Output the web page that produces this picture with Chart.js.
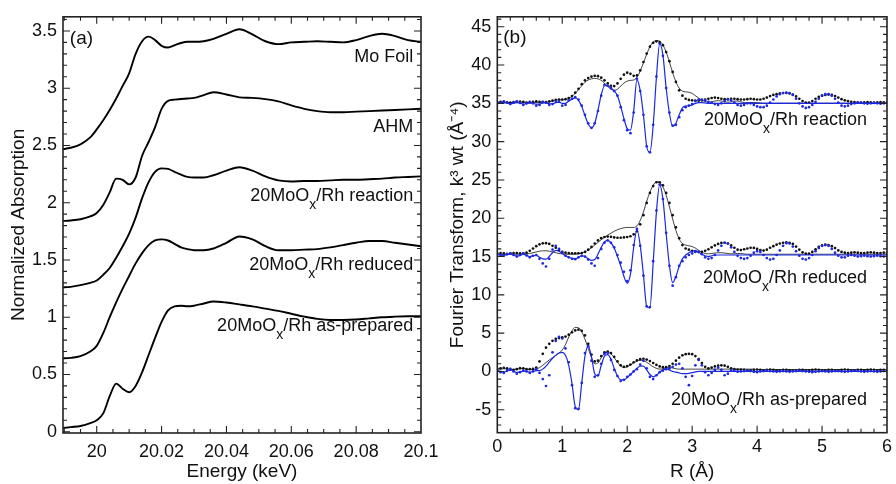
<!DOCTYPE html>
<html>
<head>
<meta charset="utf-8">
<script src="https://cdn.jsdelivr.net/npm/chart.js@4.4.0/dist/chart.umd.min.js"></script>
<style>
  html, body { margin: 0; padding: 0; background: #fff; }
  #wrap { position: relative; width: 896px; height: 484px; overflow: hidden; }
  #left { position: absolute; left: 0; top: 0; width: 448px; height: 484px; }
  #right { position: absolute; left: 446px; top: 0; width: 450px; height: 484px; }
</style>
</head>
<body>
<div id="wrap">
  <canvas id="left" width="448" height="484"></canvas>
  <canvas id="right" width="450" height="484"></canvas>
</div>
<script>
'use strict';

// ---- (a) XANES, normalized absorption vs energy (keV) ----
var energy = [19.989, 19.992, 19.995, 19.998,
  20.000, 20.002, 20.004, 20.006, 20.008, 20.010, 20.012, 20.014, 20.016, 20.018, 20.020, 20.022, 20.024, 20.026, 20.028, 20.030,
  20.033, 20.036,
  20.040, 20.044, 20.048, 20.052, 20.056, 20.060, 20.064, 20.068, 20.072, 20.076, 20.080, 20.084, 20.088, 20.092, 20.096, 20.100];

var moFoil = [2.465, 2.48, 2.51, 2.57,
  2.64, 2.72, 2.81, 2.91, 3.02, 3.13, 3.3, 3.41, 3.45, 3.42, 3.37, 3.355, 3.375, 3.395, 3.405, 3.405,
  3.41, 3.43,
  3.475, 3.515, 3.47, 3.41, 3.385, 3.4, 3.405, 3.41, 3.405, 3.4, 3.42, 3.455, 3.475, 3.455, 3.42, 3.405];

var ahm = [1.84, 1.845, 1.855, 1.88,
  1.91, 1.98, 2.09, 2.21, 2.2, 2.16, 2.22, 2.41, 2.53, 2.66, 2.82, 2.89, 2.9, 2.905, 2.91, 2.915,
  2.94, 2.965,
  2.945, 2.92, 2.915, 2.905, 2.885, 2.85, 2.82, 2.8, 2.79, 2.79, 2.795, 2.8, 2.805, 2.81, 2.815, 2.82];

var mooxReaction = [1.26, 1.265, 1.28, 1.3,
  1.32, 1.37, 1.43, 1.52, 1.62, 1.73, 1.87, 2.04, 2.18, 2.27, 2.3, 2.295, 2.27, 2.245, 2.225, 2.22,
  2.22, 2.24,
  2.28, 2.31, 2.28, 2.23, 2.195, 2.185, 2.19, 2.19, 2.195, 2.2, 2.2, 2.205, 2.21, 2.22, 2.225, 2.23];

var mooxReduced = [0.64, 0.645, 0.66, 0.7,
  0.75, 0.86, 1.0, 1.13, 1.25, 1.36, 1.47, 1.56, 1.63, 1.67, 1.68, 1.67, 1.64, 1.61, 1.595, 1.585,
  1.585, 1.6,
  1.65, 1.705, 1.68, 1.62, 1.585, 1.585, 1.59, 1.595, 1.61, 1.63, 1.65, 1.665, 1.665, 1.65, 1.635, 1.62];

var mooxAsPrepared = [0.03, 0.04, 0.05, 0.075,
  0.1, 0.16, 0.31, 0.42, 0.375, 0.345, 0.4, 0.52, 0.67, 0.82, 0.96, 1.06, 1.095, 1.1, 1.095, 1.1,
  1.12, 1.137,
  1.128, 1.112, 1.095, 1.075, 1.055, 1.03, 1.005, 0.985, 0.976, 0.976, 0.98, 0.99, 1.0, 1.005, 1.008, 1.009];

var energyTicks = [20, 20.02, 20.04, 20.06, 20.08, 20.1];
var energyTickLabels = ['20', '20.02', '20.04', '20.06', '20.08', '20.1'];
var absTicks = [0, 0.5, 1, 1.5, 2, 2.5, 3, 3.5];
var absTickLabels = ['0', '0.5', '1', '1.5', '2', '2.5', '3', '3.5'];

// ---- (b) Fourier transforms, k3 weighted, vs R (A) ----
var rValues = [
  0, 0.05, 0.1, 0.15, 0.2, 0.25, 0.3, 0.35, 0.4, 0.45, 0.5, 0.55, 0.6, 0.65, 0.7, 0.75, 0.8, 0.85, 0.9, 0.95,
  1, 1.05, 1.1, 1.15, 1.2, 1.25, 1.3, 1.35, 1.4, 1.45, 1.5, 1.55, 1.6, 1.65, 1.7, 1.75, 1.8, 1.85, 1.9, 1.95,
  2, 2.05, 2.1, 2.15, 2.2, 2.25, 2.3, 2.35, 2.4, 2.45, 2.5, 2.55, 2.6, 2.65, 2.7, 2.75, 2.8, 2.85, 2.9, 2.95,
  3, 3.05, 3.1, 3.15, 3.2, 3.25, 3.3, 3.35, 3.4, 3.45, 3.5, 3.55, 3.6, 3.65, 3.7, 3.75, 3.8, 3.85, 3.9, 3.95,
  4, 4.05, 4.1, 4.15, 4.2, 4.25, 4.3, 4.35, 4.4, 4.45, 4.5, 4.55, 4.6, 4.65, 4.7, 4.75, 4.8, 4.85, 4.9, 4.95,
  5, 5.05, 5.1, 5.15, 5.2, 5.25, 5.3, 5.35, 5.4, 5.45, 5.5, 5.55, 5.6, 5.65, 5.7, 5.75, 5.8, 5.85, 5.9, 5.95,
  6];

// reaction (plotted +35)
var reactionMag = [
  0.15, 0.2, 0.18, 0.12, 0.1, 0.15, 0.2, 0.22, 0.18, 0.1, 0.12, 0.2, 0.25, 0.2, 0.15, 0.15, 0.25, 0.35, 0.45, 0.5,
  0.5, 0.55, 0.7, 0.95, 1.4, 1.9, 2.5, 3.0, 3.3, 3.5, 3.6, 3.55, 3.35, 3.0, 2.6, 2.3, 2.25, 2.6, 3.2, 3.75,
  4.0, 3.85, 3.6, 3.65, 4.3, 5.4, 6.5, 7.4, 7.9, 8.1, 8.0, 7.6, 6.7, 5.5, 4.1, 2.8, 1.7, 1.0, 0.6, 0.45,
  0.4, 0.35, 0.35, 0.4, 0.5, 0.6, 0.7, 0.75, 0.7, 0.6, 0.55, 0.55, 0.6, 0.6, 0.55, 0.5, 0.5, 0.55, 0.6, 0.55,
  0.5, 0.5, 0.6, 0.75, 0.95, 1.1, 1.2, 1.3, 1.35, 1.35, 1.3, 1.15, 0.9, 0.6, 0.3, 0.1, 0.1, 0.3, 0.6, 0.85,
  1.0, 1.1, 1.15, 1.1, 0.95, 0.75, 0.55, 0.4, 0.3, 0.2, 0.15, 0.12, 0.1, 0.12, 0.15, 0.12, 0.1, 0.12, 0.15, 0.12,
  0.1];
var reactionMagFit = [
  0.1, 0.12, 0.15, 0.12, 0.1, 0.1, 0.12, 0.15, 0.15, 0.12, 0.1, 0.1, 0.12, 0.15, 0.15, 0.15, 0.2, 0.3, 0.4, 0.45,
  0.45, 0.5, 0.65, 0.9, 1.3, 1.8, 2.3, 2.75, 3.05, 3.2, 3.25, 3.2, 3.0, 2.65, 2.2, 1.85, 1.7, 1.85, 2.25, 2.65,
  2.9, 3.0, 3.05, 3.4, 4.2, 5.3, 6.4, 7.4, 8.0, 8.2, 8.1, 7.6, 6.7, 5.4, 4.0, 2.8, 2.0, 1.6, 1.5, 1.45,
  1.3, 1.0, 0.7, 0.4, 0.25, 0.15, 0.2, 0.3, 0.35, 0.3, 0.2, 0.15, 0.2, 0.3, 0.3, 0.2, 0.1, 0.08, 0.1, 0.12,
  0.1, 0.05, 0.02, 0.02, 0.02, 0.02, 0.02, 0.02, 0.02, 0.02, 0.02, 0.02, 0.02, 0.02, 0.02, 0.02, 0.02, 0.02, 0.02, 0.02,
  0.02, 0.02, 0.02, 0.02, 0.02, 0.02, 0.02, 0.02, 0.02, 0.02, 0.02, 0.02, 0.02, 0.02, 0.02, 0.02, 0.02, 0.02, 0.02, 0.02,
  0.02];
var reactionRe = [
  0, 0.1, 0.25, 0.1, -0.1, 0.1, 0.25, 0.05, -0.2, 0, 0.2, 0, -0.3, -0.2, 0.2, 0.1, -0.2, -0.1, 0.3, 0.2,
  -0.3, -0.2, 0.4, 0.6, 0.8, 0.5, -0.3, -1.5, -2.6, -3.2, -2.6, -1.0, 1.0, 2.4, 2.3, 2.0, 1.6, 1.0, -0.5, -2.2,
  -3.5, -3.9, -1.2, 3.2, 1.6, -1.5, -5.6, -6.4, -2.8, 3.5, 7.8, 6.2, 2.0, -1.2, -2.9, -2.8, -1.8, -0.9, -0.5, -0.3,
  -0.1, 0.3, 0.5, 0.5, 0.4, 0.2, 0.1, -0.1, -0.2, 0, 0.3, 0.5, 0.4, 0.1, -0.2, -0.3, -0.2, 0, 0, -0.2,
  -0.4, -0.5, -0.5, -0.3, 0.1, 0.5, 0.9, 1.2, 1.35, 1.4, 1.35, 1.1, 0.6, 0, -0.4, -0.6, -0.5, -0.2, 0.2, 0.6,
  1.0, 1.2, 1.2, 1.0, 0.6, 0.1, -0.3, -0.4, -0.3, -0.1, 0, 0.1, 0.1, 0, -0.05, 0, 0.05, 0, -0.05, 0,
  0.05];
var reactionReFit = [
  0, 0.05, 0.1, 0.05, -0.05, 0, 0.1, 0.05, -0.1, -0.05, 0.05, 0, -0.1, -0.1, 0.05, 0.05, -0.05, -0.05, 0.1, 0.15,
  0, 0, 0.3, 0.55, 0.7, 0.4, -0.4, -1.6, -2.7, -3.2, -2.6, -0.9, 1.1, 2.3, 2.3, 2.0, 1.6, 1.0, -0.4, -2.0,
  -3.3, -3.5, -1.0, 3.1, 1.7, -1.5, -5.6, -6.4, -2.9, 3.4, 7.8, 6.3, 2.0, -1.3, -3.0, -2.6, -1.5, -0.6, -0.35, -0.3,
  -0.2, 0, 0.1, 0.1, 0.05, 0, 0, 0, 0, 0, 0, 0, 0, 0, 0, 0, 0, 0, 0, 0,
  0, 0, 0, 0, 0, 0, 0, 0, 0, 0, 0, 0, 0, 0, 0, 0, 0, 0, 0, 0,
  0, 0, 0, 0, 0, 0, 0, 0, 0, 0, 0, 0, 0, 0, 0, 0, 0, 0, 0, 0,
  0];

// reduced (plotted +15)
var reducedMag = [
  0.4, 0.45, 0.4, 0.35, 0.4, 0.45, 0.45, 0.4, 0.4, 0.5, 0.75, 1.05, 1.35, 1.6, 1.72, 1.75, 1.65, 1.4, 1.15, 0.85,
  0.6, 0.5, 0.45, 0.43, 0.43, 0.43, 0.45, 0.6, 0.9, 1.25, 1.7, 2.1, 2.4, 2.55, 2.6, 2.58, 2.5, 2.45, 2.45, 2.5,
  2.55, 2.65, 2.9, 3.3, 4.2, 5.4, 7.0, 8.3, 9.2, 9.7, 9.7, 9.3, 8.3, 7.0, 5.4, 3.8, 2.4, 1.5, 1.05, 0.9,
  0.75, 0.62, 0.6, 0.62, 0.75, 0.95, 1.2, 1.45, 1.65, 1.78, 1.8, 1.7, 1.45, 1.15, 0.9, 0.85, 0.95, 1.05, 1.15, 1.12,
  1.0, 0.85, 0.78, 0.9, 1.15, 1.35, 1.55, 1.7, 1.8, 1.85, 1.8, 1.65, 1.3, 0.9, 0.55, 0.38, 0.38, 0.6, 0.95, 1.25,
  1.45, 1.55, 1.5, 1.35, 1.1, 0.8, 0.6, 0.5, 0.45, 0.5, 0.55, 0.5, 0.45, 0.45, 0.5, 0.55, 0.5, 0.45, 0.45, 0.5,
  0.5];
var reducedMagFit = [
  0.3, 0.3, 0.28, 0.28, 0.3, 0.3, 0.3, 0.3, 0.32, 0.35, 0.4, 0.5, 0.6, 0.7, 0.75, 0.75, 0.7, 0.6, 0.5, 0.4,
  0.35, 0.3, 0.3, 0.3, 0.3, 0.35, 0.45, 0.6, 0.85, 1.15, 1.5, 1.85, 2.2, 2.5, 2.8, 3.05, 3.3, 3.5, 3.65, 3.75,
  3.8, 3.8, 3.8, 4.0, 4.7, 5.8, 7.2, 8.4, 9.3, 9.75, 9.65, 9.1, 8.0, 6.5, 4.9, 3.4, 2.3, 1.7, 1.5, 1.4,
  1.3, 1.1, 0.8, 0.55, 0.4, 0.35, 0.4, 0.45, 0.5, 0.5, 0.45, 0.4, 0.35, 0.35, 0.4, 0.4, 0.35, 0.3, 0.3, 0.3,
  0.3, 0.3, 0.3, 0.3, 0.3, 0.3, 0.3, 0.3, 0.3, 0.3, 0.3, 0.3, 0.3, 0.3, 0.3, 0.3, 0.3, 0.3, 0.3, 0.3,
  0.3, 0.3, 0.3, 0.3, 0.3, 0.3, 0.3, 0.3, 0.3, 0.3, 0.3, 0.3, 0.3, 0.3, 0.3, 0.3, 0.3, 0.3, 0.3, 0.3,
  0.3];
var reducedRe = [
  0.3, 0.2, 0.1, 0.3, 0.43, 0.2, 0, 0.2, 0.4, 0.15, -0.1, 0.1, 0.2, -0.3, -0.9, -1.3, -0.3, 0.9, 1.4, 1.0,
  0.5, 0.1, -0.1, -0.3, -0.35, -0.1, 0.1, 0, -0.4, -0.9, -1.2, -0.2, 1.0, 1.8, 2.1, 1.8, 1.2, 0.2, -0.8, -2.0,
  -3.2, -1.8, 1.5, 3.6, 1.4, -2.5, -6.5, -6.6, -0.6, 6.0, 9.4, 7.5, 3.1, -1.2, -3.8, -2.7, -1.2, -0.6, -0.1, 0.2,
  0.4, 0.7, 0.6, 0.3, -0.1, -0.3, -0.2, 0.2, 0.8, 1.4, 1.8, 1.7, 1.2, 0.6, 0.1, -0.2, -0.3, -0.2, 0.1, 0.5,
  0.7, 0.6, 0.2, -0.2, -0.4, -0.3, 0.2, 0.8, 1.4, 1.75, 1.7, 1.3, 0.7, 0.1, -0.3, -0.4, -0.2, 0.2, 0.7, 1.1,
  1.4, 1.5, 1.4, 1.0, 0.5, 0.1, -0.1, -0.1, 0.1, 0.2, 0.1, 0, 0.05, 0.1, 0.05, 0, 0.05, 0.1, 0.05, 0,
  0.05];
var reducedReFit = [
  0.25, 0.2, 0.15, 0.25, 0.3, 0.2, 0.05, 0.15, 0.3, 0.15, 0, 0.1, 0.15, -0.1, -0.3, -0.35, 0, 0.5, 0.8, 0.7,
  0.4, 0.1, -0.1, -0.25, -0.3, -0.1, 0.1, 0, -0.3, -0.5, -0.4, 0.3, 1.2, 1.9, 2.1, 1.8, 1.1, 0, -1.2, -2.6,
  -3.5, -2.3, 1.2, 3.5, 1.5, -2.4, -6.5, -6.7, -0.8, 5.8, 9.4, 7.5, 3.0, -1.2, -3.4, -2.6, -1.3, -0.3, 0.2, 0.5,
  0.7, 0.75, 0.55, 0.3, 0.1, 0, 0.1, 0.2, 0.2, 0.2, 0.2, 0.2, 0.2, 0.2, 0.2, 0.2, 0.2, 0.2, 0.2, 0.2,
  0.2, 0.2, 0.2, 0.2, 0.2, 0.2, 0.2, 0.2, 0.2, 0.2, 0.2, 0.2, 0.2, 0.2, 0.2, 0.2, 0.2, 0.2, 0.2, 0.2,
  0.2, 0.2, 0.2, 0.2, 0.2, 0.2, 0.2, 0.2, 0.2, 0.2, 0.2, 0.2, 0.2, 0.2, 0.2, 0.2, 0.2, 0.2, 0.2, 0.2,
  0.2];

// as-prepared (plotted +0)
var asPreparedMag = [
  0.35, 0.4, 0.48, 0.4, 0.25, 0.2, 0.3, 0.43, 0.4, 0.3, 0.3, 0.35, 0.5, 1.3, 2.3, 3.1, 3.6, 4.0, 4.25, 4.35,
  4.45, 4.55, 4.8, 5.1, 5.35, 5.45, 5.3, 4.7, 3.6, 2.2, 1.3, 1.4, 2.0, 2.5, 2.6, 2.4, 1.9, 1.3, 0.8, 0.6,
  0.7, 0.9, 1.2, 1.45, 1.6, 1.65, 1.55, 1.35, 1.1, 0.85, 0.65, 0.55, 0.55, 0.7, 1.0, 1.4, 1.8, 2.1, 2.25, 2.3,
  2.25, 2.0, 1.6, 1.1, 0.6, 0.4, 0.5, 0.65, 0.75, 0.8, 0.75, 0.6, 0.4, 0.3, 0.25, 0.25, 0.2, 0.15, 0.15, 0.2,
  0.25, 0.2, 0.15, 0.2, 0.25, 0.2, 0.15, 0.15, 0.2, 0.2, 0.15, 0.1, 0.15, 0.2, 0.2, 0.15, 0.15, 0.2, 0.25, 0.2,
  0.15, 0.15, 0.2, 0.2, 0.15, 0.15, 0.2, 0.25, 0.2, 0.15, 0.15, 0.2, 0.2, 0.15, 0.2, 0.25, 0.2, 0.15, 0.2, 0.2,
  0.15];
var asPreparedMagFit = [
  0.3, 0.3, 0.35, 0.3, 0.25, 0.25, 0.3, 0.35, 0.35, 0.3, 0.25, 0.25, 0.3, 0.5, 0.8, 1.15, 1.5, 1.8, 2.1, 2.4,
  2.8, 3.5, 4.5, 5.3, 5.75, 5.7, 5.2, 4.2, 3.0, 1.8, 1.0, 1.1, 1.8, 2.35, 2.5, 2.3, 1.8, 1.2, 0.7, 0.5,
  0.6, 0.85, 1.1, 1.35, 1.45, 1.4, 1.2, 0.9, 0.6, 0.4, 0.3, 0.35, 0.45, 0.5, 0.45, 0.35, 0.3, 0.3, 0.3, 0.3,
  0.3, 0.3, 0.3, 0.3, 0.3, 0.3, 0.3, 0.3, 0.3, 0.3, 0.3, 0.3, 0.3, 0.3, 0.3, 0.3, 0.3, 0.3, 0.3, 0.3,
  0.25, 0.25, 0.25, 0.25, 0.25, 0.25, 0.25, 0.25, 0.25, 0.25, 0.25, 0.25, 0.25, 0.25, 0.25, 0.25, 0.25, 0.25, 0.25, 0.25,
  0.25, 0.25, 0.25, 0.25, 0.25, 0.25, 0.25, 0.25, 0.25, 0.25, 0.25, 0.25, 0.25, 0.25, 0.25, 0.25, 0.25, 0.25, 0.25, 0.25,
  0.25];
var asPreparedRe = [
  0.1, -0.1, -0.2, 0.1, 0.35, 0, -0.3, -0.1, 0.1, 0, -0.2, 0, 0.3, -0.2, -1.0, -1.9, -0.5, 2.5, 4.0, 4.5,
  4.3, 3.0, 1.2, -1.8, -4.8, -4.9, -1.5, 2.4, 3.3, 1.4, -0.7, -0.5, 1.0, 2.3, 2.4, 1.5, 0.2, -0.6, -1.25, -1.1,
  -0.7, -0.4, 0, 0.3, 0.9, 1.4, 0.4, -0.7, -1.0, -0.5, -0.1, 0.1, 0.3, 0.4, 0.6, 0.9, 1.0, 0.4, -0.7, -1.8,
  -0.6, 0.8, 1.5, 0.8, -0.1, -0.5, -0.2, 0.2, 0.5, 0.2, -0.5, -0.3, 0.1, 0.1, -0.05, 0, 0.05, 0.1, 0.05, -0.05,
  -0.1, 0, 0.05, 0.1, 0.05, 0, -0.05, 0, 0.05, 0, -0.05, 0, 0.05, 0.1, 0.05, 0, -0.05, -0.1, -0.05, 0,
  0.05, 0, -0.05, 0, 0.05, 0.05, 0, -0.05, 0, 0.05, 0.1, 0.05, 0, -0.05, 0, 0.05, 0, -0.05, 0, 0.05,
  0];
var asPreparedReFit = [
  0.1, 0, -0.1, 0.05, 0.2, 0.05, -0.15, -0.05, 0.05, 0, -0.1, 0, 0.1, 0.1, 0.3, 0.7, 1.2, 1.7, 2.1, 2.4,
  2.5, 2.1, 0.8, -1.6, -4.6, -5.0, -1.5, 2.0, 3.3, 1.9, -0.3, -0.6, 0.8, 2.0, 2.2, 1.6, 0.4, -0.6, -1.1, -1.1,
  -0.8, -0.4, 0, 0.4, 0.7, 0.7, 0.2, -0.4, -0.7, -0.5, -0.1, 0.2, 0.3, 0.2, 0, -0.1, -0.2, -0.3, -0.3, -0.25,
  -0.15, -0.05, 0, 0, 0, 0, 0, 0, 0, 0, 0, 0, 0, 0, 0, 0, 0, 0, 0, 0,
  0, 0, 0, 0, 0, 0, 0, 0, 0, 0, 0, 0, 0, 0, 0, 0, 0, 0, 0, 0,
  0, 0, 0, 0, 0, 0, 0, 0, 0, 0, 0, 0, 0, 0, 0, 0, 0, 0, 0, 0,
  0];

var rOffsets = [35, 15, 0];
var rTicks = [0, 1, 2, 3, 4, 5, 6];
var ftTicks = [-5, 0, 5, 10, 15, 20, 25, 30, 35, 40, 45];

var FONT = '"Liberation Sans", Arial, Helvetica, sans-serif';
var BLUE = 'rgb(28, 40, 225)';
Chart.defaults.font.family = FONT;
Chart.defaults.color = '#111';

// minor tick positions (just the axis furniture)
function steps(from, to, step) {
  var out = [];
  for (var i = 0; from + i * step <= to + 1e-9; i++) out.push(+(from + i * step).toFixed(4));
  return out;
}

// frame, inward ticks on all four sides, and the in-plot text
var frameTicks = {
  id: 'frameTicks',
  afterDraw: function (chart, args, opts) {
    var ctx = chart.ctx;
    var a = chart.chartArea;
    var sx = chart.scales.x;
    var sy = chart.scales.y;

    function tickX(v, len) {
      var p = sx.getPixelForValue(v);
      if (p <= a.left + 1 || p >= a.right - 1) return;
      ctx.moveTo(p, a.bottom); ctx.lineTo(p, a.bottom - len);
      ctx.moveTo(p, a.top); ctx.lineTo(p, a.top + len);
    }
    function tickY(v, len) {
      var p = sy.getPixelForValue(v);
      if (p <= a.top + 1 || p >= a.bottom - 1) return;
      ctx.moveTo(a.left, p); ctx.lineTo(a.left + len, p);
      ctx.moveTo(a.right, p); ctx.lineTo(a.right - len, p);
    }

    ctx.save();
    ctx.strokeStyle = '#222';
    ctx.lineWidth = 1.1;
    ctx.beginPath();
    opts.xMinor.forEach(function (v) { tickX(v, 4); });
    opts.yMinor.forEach(function (v) { tickY(v, 4); });
    opts.xMajor.forEach(function (v) { tickX(v, 7); });
    opts.yMajor.forEach(function (v) { tickY(v, 7); });
    ctx.stroke();

    ctx.lineWidth = 1.6;
    ctx.strokeRect(a.left, a.top, a.right - a.left, a.bottom - a.top);

    ctx.fillStyle = '#111';
    ctx.textBaseline = 'alphabetic';
    opts.labels.forEach(function (l) {
      var big = (l.size || 18) + 'px ' + FONT;
      var small = '14px ' + FONT;
      var w = 0;
      l.parts.forEach(function (p) { ctx.font = p[1] ? small : big; w += ctx.measureText(p[0]).width; });
      var x = sx.getPixelForValue(l.x);
      var y = sy.getPixelForValue(l.y);
      if (l.align === 'right') x -= w;
      l.parts.forEach(function (p) {
        ctx.font = p[1] ? small : big;
        ctx.fillText(p[0], x, p[1] ? y + 8 : y);
        x += ctx.measureText(p[0]).width;
      });
    });
    ctx.restore();
  }
};

function moox(rest) { return [['20MoO', false], ['x', true], ['/Rh ' + rest, false]]; }
function xy(xs, ys, off) { return ys.map(function (v, i) { return { x: xs[i], y: v + (off || 0) }; }); }

// ---- left chart ----
var leftCurves = [moFoil, ahm, mooxReaction, mooxReduced, mooxAsPrepared];

new Chart(document.getElementById('left'), {
  type: 'scatter',
  data: {
    datasets: leftCurves.map(function (c) {
      return { data: xy(energy, c), showLine: true, borderColor: '#000', borderWidth: 1.9,
        pointRadius: 0, cubicInterpolationMode: 'monotone' };
    })
  },
  options: {
    responsive: false,
    animation: false,
    events: [],
    layout: { padding: { top: 15, right: 27, left: 0, bottom: 0 } },
    plugins: {
      legend: { display: false },
      tooltip: { enabled: false },
      frameTicks: {
        xMajor: energyTicks, xMinor: steps(19.99, 20.1, 0.005),
        yMajor: absTicks, yMinor: steps(0, 3.6, 0.1),
        labels: [
          { x: 19.9917, y: 3.384, parts: [['(a)', false]], size: 19 },
          { x: 20.0976, y: 3.232, align: 'right', parts: [['Mo Foil', false]] },
          { x: 20.0976, y: 2.617, align: 'right', parts: [['AHM', false]] },
          { x: 20.0976, y: 2.015, align: 'right', parts: moox('reaction') },
          { x: 20.0976, y: 1.412, align: 'right', parts: moox('reduced') },
          { x: 20.0976, y: 0.876, align: 'right', parts: moox('as-prepared') }
        ]
      }
    },
    scales: {
      x: {
        type: 'linear', min: 19.9896, max: 20.1,
        grid: { display: false, drawTicks: false }, border: { display: false },
        afterBuildTicks: function (s) { s.ticks = energyTicks.map(function (v) { return { value: v }; }); },
        afterFit: function (s) { s.height = 51; },
        ticks: { padding: 8, font: { size: 18 }, maxRotation: 0, autoSkip: false,
          callback: function (v) { return energyTickLabels[energyTicks.indexOf(v)]; } },
        title: { display: true, text: 'Energy (keV)', font: { size: 19 }, padding: { top: 0, bottom: 1 } }
      },
      y: {
        type: 'linear', min: -0.0113, max: 3.6235,
        grid: { display: false, drawTicks: false }, border: { display: false },
        afterBuildTicks: function (s) { s.ticks = absTicks.map(function (v) { return { value: v }; }); },
        afterFit: function (s) { s.width = 63; },
        ticks: { padding: 6, font: { size: 18 }, autoSkip: false,
          callback: function (v) { return absTickLabels[absTicks.indexOf(v)]; } },
        title: { display: true, text: 'Normalized Absorption', font: { size: 19 }, padding: { top: 7.6, bottom: 0 } }
      }
    }
  },
  plugins: [frameTicks]
});

// ---- right chart ----
var groups = [
  [reactionMag, reactionMagFit, reactionRe, reactionReFit],
  [reducedMag, reducedMagFit, reducedRe, reducedReFit],
  [asPreparedMag, asPreparedMagFit, asPreparedRe, asPreparedReFit]
];
var rightSets = [];
groups.forEach(function (g, k) {
  var off = rOffsets[k];
  // first dataset is painted last, so blue goes first
  rightSets.push({ data: xy(rValues, g[3], off), showLine: true, borderColor: BLUE, borderWidth: 1.2,
    pointRadius: 0, cubicInterpolationMode: 'monotone' });
  rightSets.push({ data: xy(rValues, g[2], off), showLine: false, pointRadius: 1.35, pointBorderWidth: 0,
    pointBackgroundColor: BLUE, pointHoverRadius: 0 });
  rightSets.push({ data: xy(rValues, g[1], off), showLine: true, borderColor: '#111', borderWidth: 0.8,
    pointRadius: 0, cubicInterpolationMode: 'monotone' });
  rightSets.push({ data: xy(rValues, g[0], off), showLine: false, pointRadius: 1.35, pointBorderWidth: 0,
    pointBackgroundColor: '#111', pointHoverRadius: 0 });
});

new Chart(document.getElementById('right'), {
  type: 'scatter',
  data: { datasets: rightSets },
  options: {
    responsive: false,
    animation: false,
    events: [],
    layout: { padding: { top: 15, right: 6, left: 0, bottom: 0 } },
    plugins: {
      legend: { display: false },
      tooltip: { enabled: false },
      frameTicks: {
        xMajor: rTicks, xMinor: steps(0, 6, 0.2),
        yMajor: ftTicks, yMinor: steps(-8, 46, 1),
        labels: [
          { x: 0.092, y: 42.82, parts: [['(b)', false]], size: 19 },
          { x: 5.694, y: 32.21, align: 'right', parts: moox('reaction') },
          { x: 5.694, y: 11.48, align: 'right', parts: moox('reduced') },
          { x: 5.694, y: -4.33, align: 'right', parts: moox('as-prepared') }
        ]
      }
    },
    scales: {
      x: {
        type: 'linear', min: 0, max: 6,
        grid: { display: false, drawTicks: false }, border: { display: false },
        afterBuildTicks: function (s) { s.ticks = rTicks.map(function (v) { return { value: v }; }); },
        afterFit: function (s) { s.height = 51.3; },
        ticks: { padding: 4, font: { size: 18 }, maxRotation: 0, autoSkip: false },
        title: { display: true, text: 'R (\u00C5)', font: { size: 19 }, padding: { top: 0, bottom: 1 } }
      },
      y: {
        type: 'linear', min: -8, max: 46.3,
        grid: { display: false, drawTicks: false }, border: { display: false },
        afterBuildTicks: function (s) { s.ticks = ftTicks.map(function (v) { return { value: v }; }); },
        afterFit: function (s) { s.width = 51.3; },
        ticks: { padding: 6, font: { size: 18 }, autoSkip: false },
        title: { display: true, text: 'Fourier Transform, k\u00B3 wt (\u00C5\u207B\u2074)', font: { size: 19 },
          padding: { top: 0, bottom: 0 } }
      }
    }
  },
  plugins: [frameTicks]
});
</script>
</body>
</html>
